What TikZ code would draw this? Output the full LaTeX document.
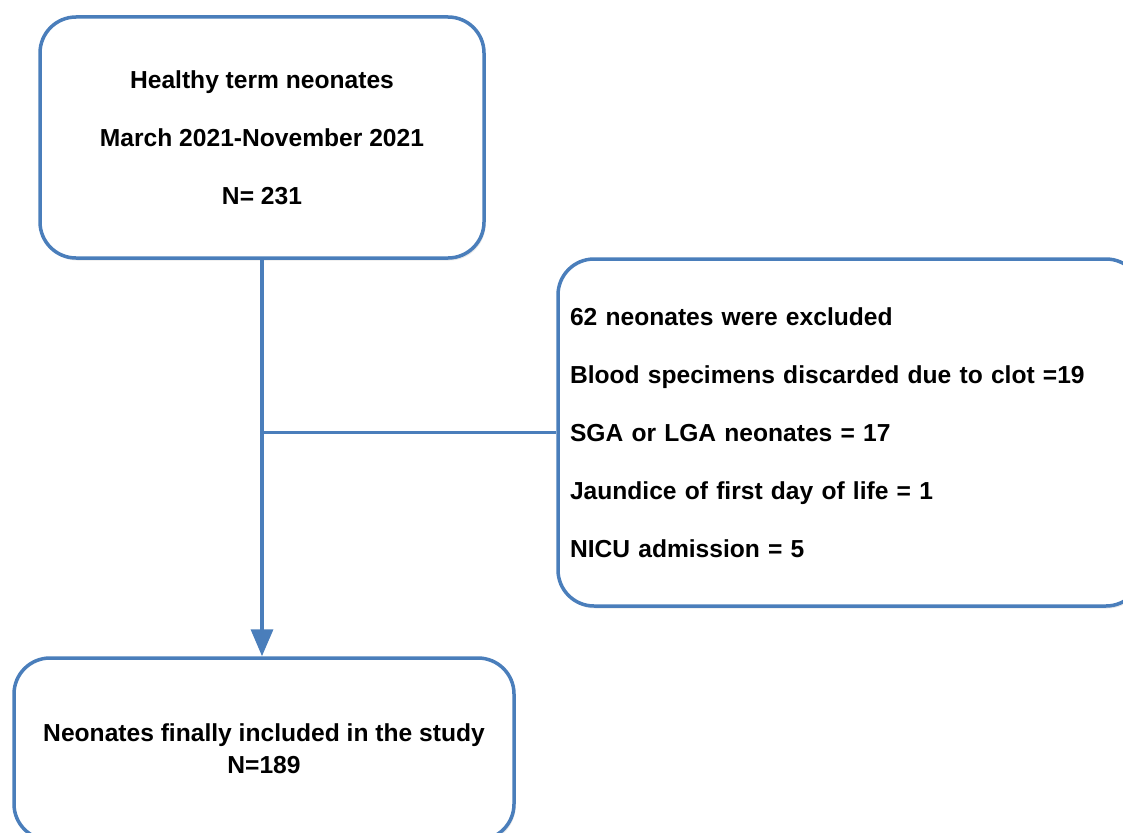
\documentclass[tikz,border=0pt]{standalone}
\usepackage{fontspec}
\setmainfont{Liberation Sans}
\usetikzlibrary{arrows.meta,shadows}
\definecolor{lineblue}{HTML}{4A7EBB}
\tikzset{
  flowbox/.style={draw=lineblue, line width=3.5pt, rounded corners=36pt, fill=white,
    drop shadow={shadow xshift=1.5pt, shadow yshift=-2.5pt, opacity=0.18},
    font=\fontsize{24.6}{58}\selectfont\bfseries, inner sep=0pt},
  link/.style={draw=lineblue, line width=3.5pt},
}
\begin{document}
\begin{tikzpicture}[x=1pt,y=-1pt]
\clip (0,0) rectangle (1123,832);
\fill[white] (0,0) rectangle (1123,832);
\node[flowbox, minimum width=444pt, minimum height=241pt, align=center] (top) at (262,137.5)
  {Healthy term neonates\\March 2021-November 2021\\N= 231};
\node[flowbox, minimum width=584pt, minimum height=347pt, text width=560pt, align=left] (excl) at (850,432.5)
  {62 neonates were excluded\\Blood specimens discarded due to clot =19\\SGA or LGA neonates = 17\\Jaundice of first day of life = 1\\NICU admission = 5};
\node[flowbox, minimum width=500pt, minimum height=182pt, align=center,
  font=\fontsize{24.6}{32}\selectfont\bfseries] (final) at (264,749)
  {Neonates finally included in the study\\N=189};
\coordinate (split) at (top.south |- excl.west);
\coordinate (arrowend) at (top.south |- final.north);
\draw[link, -{Triangle[length=27pt,width=22pt]}] (top.south) -- (arrowend);
\draw[link] (split) -- (excl.west);
\end{tikzpicture}
\end{document}
